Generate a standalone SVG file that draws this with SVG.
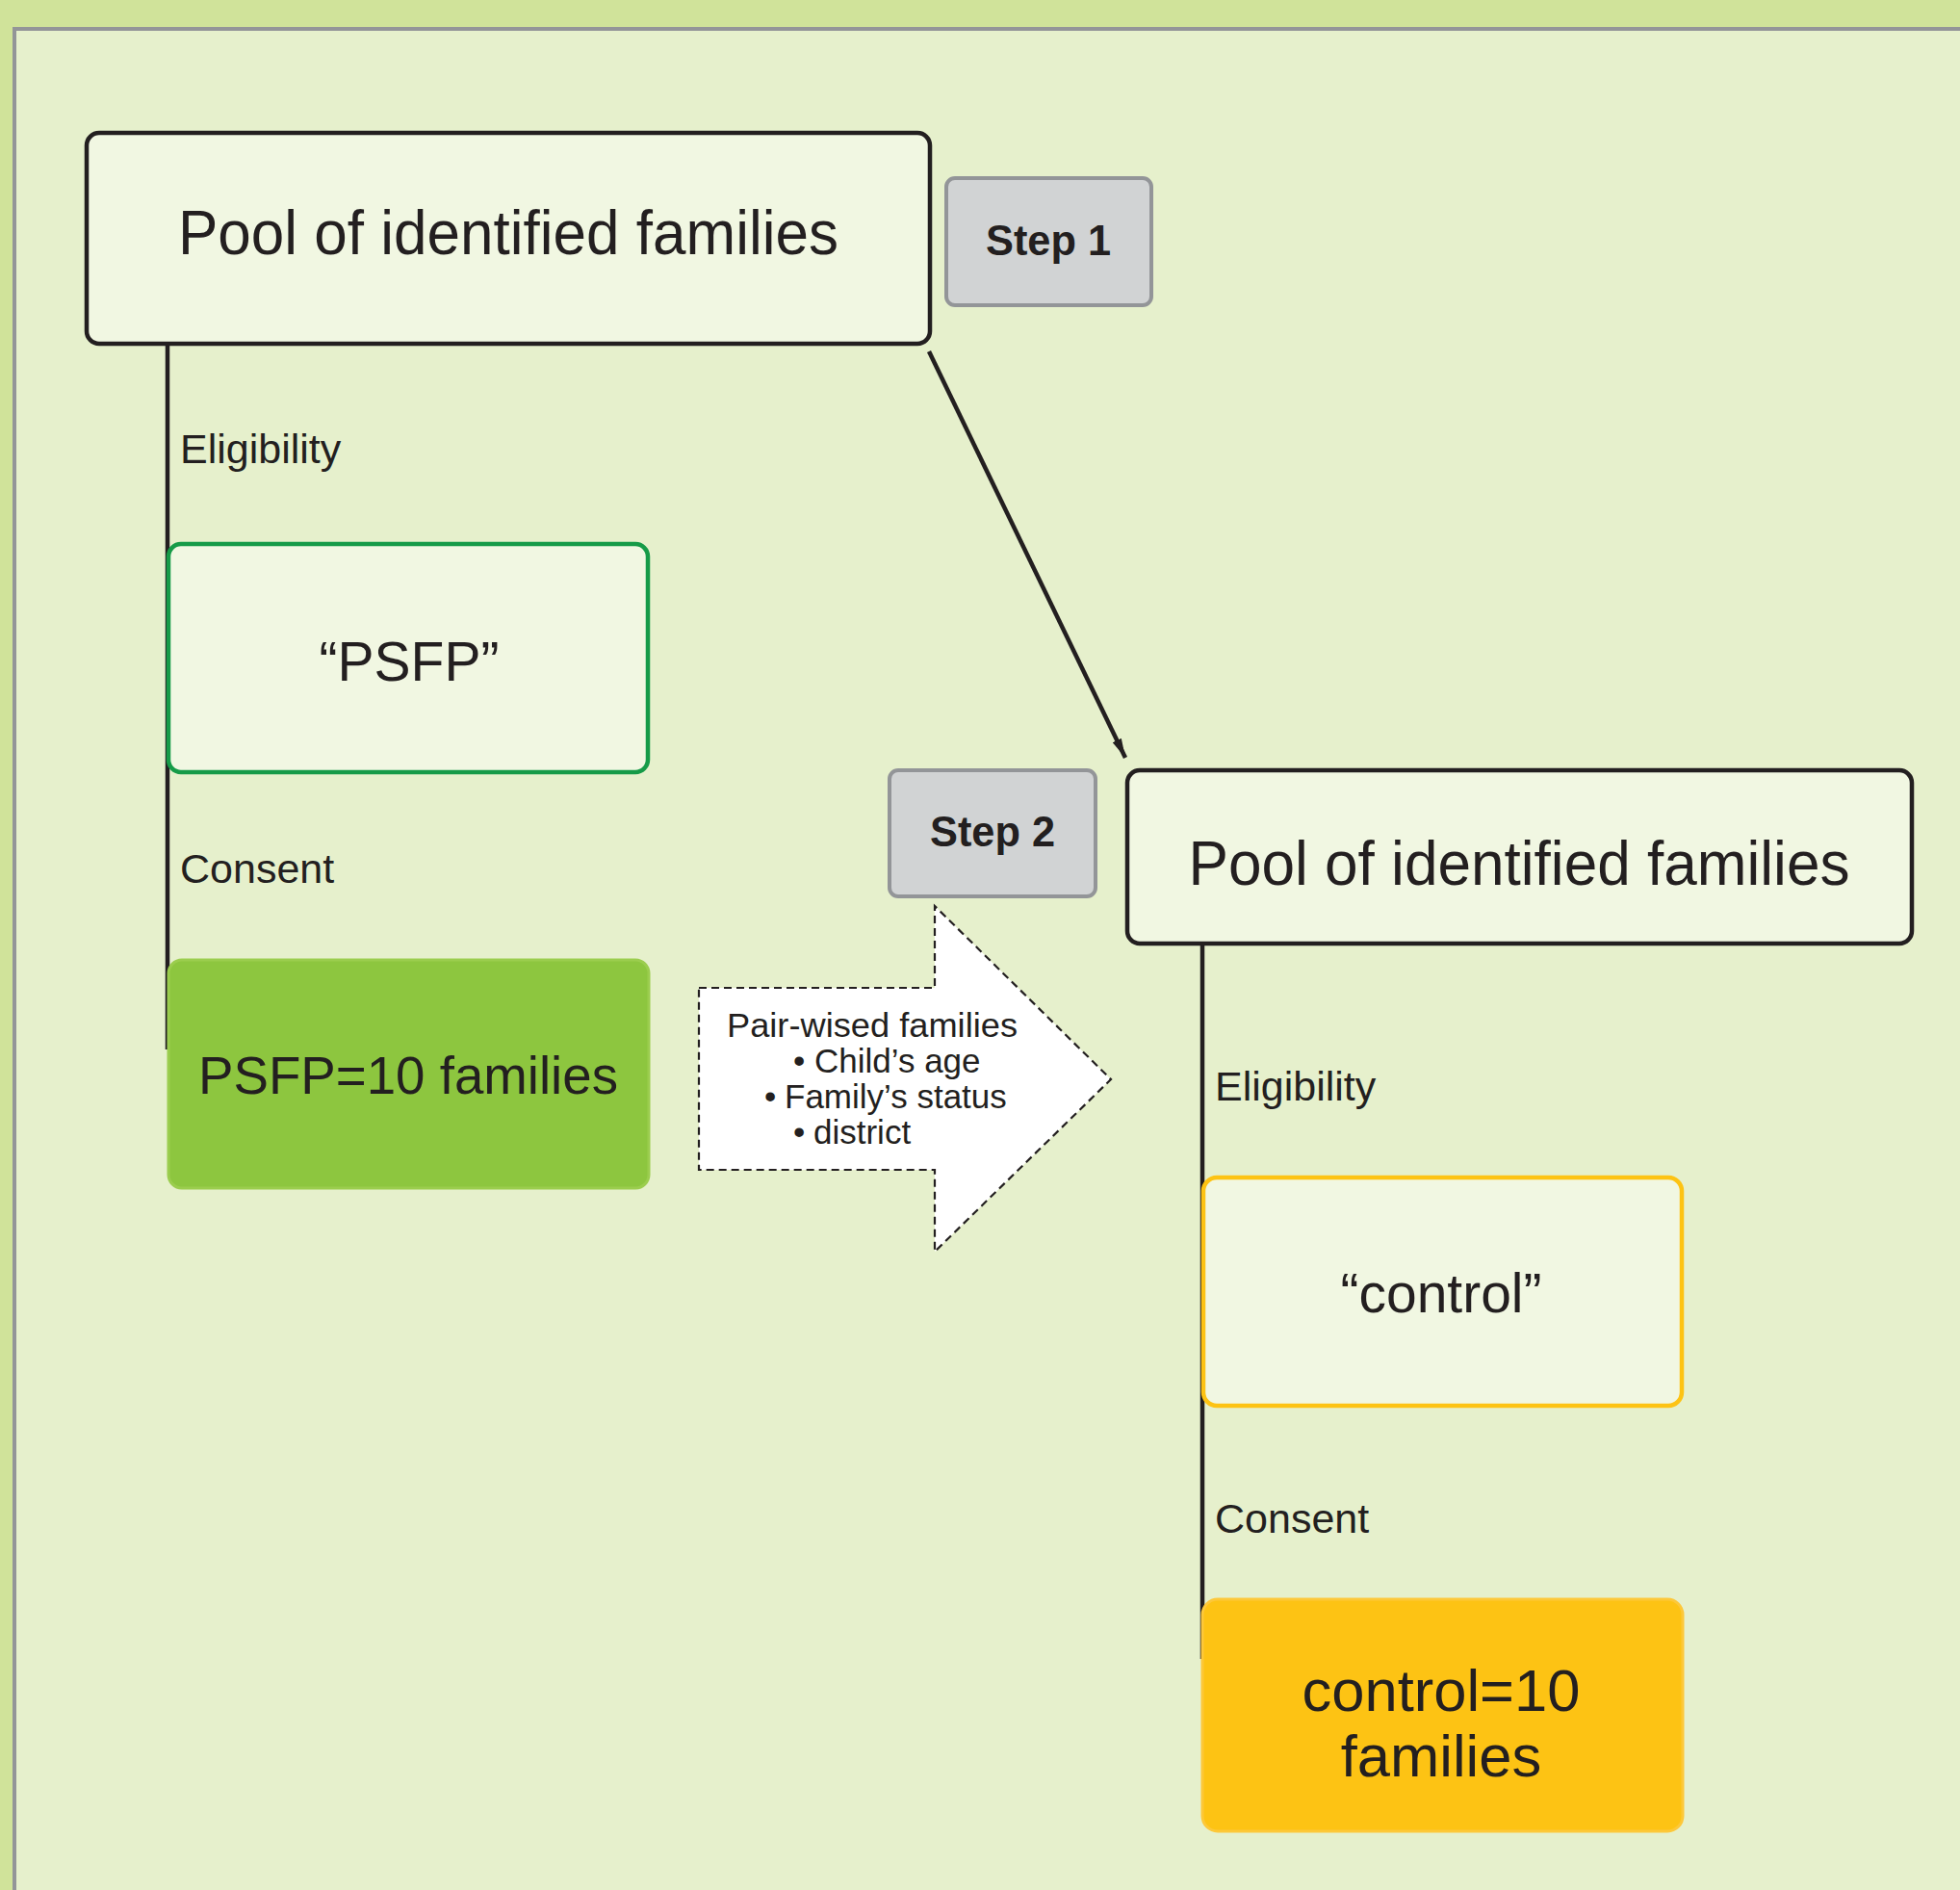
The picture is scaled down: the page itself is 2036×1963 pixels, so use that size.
<svg xmlns="http://www.w3.org/2000/svg" width="2036" height="1963" viewBox="0 0 2036 1963">
<style>
text{font-family:"Liberation Sans",Arial,Helvetica,sans-serif;fill:#231F20}
.pool{fill:#F1F7E2;stroke:#231F20;stroke-width:4.5}
.step{fill:#D1D3D4;stroke:#939598;stroke-width:4}
.steptxt{font-weight:bold;font-size:44px;text-anchor:middle}
.big{font-size:64px;text-anchor:middle}
.lbl{font-size:43px}
.mid{font-size:57px;text-anchor:middle}
.pw{font-size:35px}
.conn{stroke:#231F20;stroke-width:4.5;fill:none}
</style>
<defs>
<marker id="ah" viewBox="0 0 20 10" refX="20" refY="5" markerWidth="20" markerHeight="10" markerUnits="userSpaceOnUse" orient="auto">
<path d="M0,0 L20,5 L0,10 Z" fill="#231F20"/>
</marker>
</defs>
<rect x="0" y="0" width="2036" height="1963" fill="#D0E39A"/>
<rect x="15" y="30" width="2040" height="1950" fill="#E6F0CC" stroke="#939598" stroke-width="4"/>

<g id="connectors">
<line class="conn" x1="174" y1="357" x2="174" y2="1090"/>
<line class="conn" x1="1249" y1="980" x2="1249" y2="1723"/>
<line class="conn" x1="965" y1="365" x2="1169" y2="787" marker-end="url(#ah)"/>
</g>

<g id="pool1">
<rect class="pool" x="90" y="138" width="876" height="219" rx="13"/>
<text class="big" x="528" y="264" textLength="686" lengthAdjust="spacingAndGlyphs">Pool of identified families</text>
</g>

<g id="step1">
<rect class="step" x="983" y="185" width="213" height="132" rx="9"/>
<text class="steptxt" x="1089" y="265" textLength="130" lengthAdjust="spacingAndGlyphs">Step 1</text>
</g>

<g id="label-elig1"><text class="lbl" x="187" y="481">Eligibility</text></g>

<g id="psfp">
<rect x="175" y="565" width="498" height="237" rx="13" fill="#F1F7E2" stroke="#169B48" stroke-width="4.5"/>
<text class="mid" x="425" y="707">“PSFP”</text>
</g>

<g id="label-consent1"><text class="lbl" x="187" y="917">Consent</text></g>

<g id="psfp10">
<rect x="175" y="997" width="499" height="237" rx="14" fill="#8DC63F" stroke="#9BCD4E" stroke-width="3"/>
<text x="424" y="1136" font-size="55" text-anchor="middle" textLength="436" lengthAdjust="spacingAndGlyphs">PSFP=10 families</text>
</g>

<g id="pairwise">
<path d="M726,1026 L971,1026 L971,941 L1154,1121 L971,1300 L971,1215 L726,1215 Z" fill="#FFFFFF" stroke="#231F20" stroke-width="2.2" stroke-dasharray="8,5"/>
<text class="pw" x="755" y="1077" textLength="302" lengthAdjust="spacingAndGlyphs">Pair-wised families</text>
<text class="pw" x="824" y="1114">•<tspan x="846">Child’s age</tspan></text>
<text class="pw" x="794" y="1151">•<tspan x="815">Family’s status</tspan></text>
<text class="pw" x="824" y="1188">•<tspan x="845">district</tspan></text>
</g>

<g id="step2">
<rect class="step" x="924" y="800" width="214" height="131" rx="9"/>
<text class="steptxt" x="1031" y="879" textLength="130" lengthAdjust="spacingAndGlyphs">Step 2</text>
</g>

<g id="pool2">
<rect class="pool" x="1171" y="800" width="815" height="180" rx="13"/>
<text class="big" x="1578" y="919" textLength="687" lengthAdjust="spacingAndGlyphs">Pool of identified families</text>
</g>

<g id="label-elig2"><text class="lbl" x="1262" y="1143">Eligibility</text></g>

<g id="control">
<rect x="1250" y="1223" width="497" height="237" rx="14" fill="#F1F7E2" stroke="#FDC314" stroke-width="4.5"/>
<text class="mid" x="1497" y="1363" font-size="62">“control”</text>
</g>

<g id="label-consent2"><text class="lbl" x="1262" y="1592">Consent</text></g>

<g id="control10">
<rect x="1249" y="1661" width="499" height="241" rx="16" fill="#FDC314" stroke="#FDC83A" stroke-width="3"/>
<text x="1497" y="1777" font-size="61.5" text-anchor="middle">control=10</text>
<text x="1497" y="1845" font-size="61.5" text-anchor="middle">families</text>
</g>
</svg>
